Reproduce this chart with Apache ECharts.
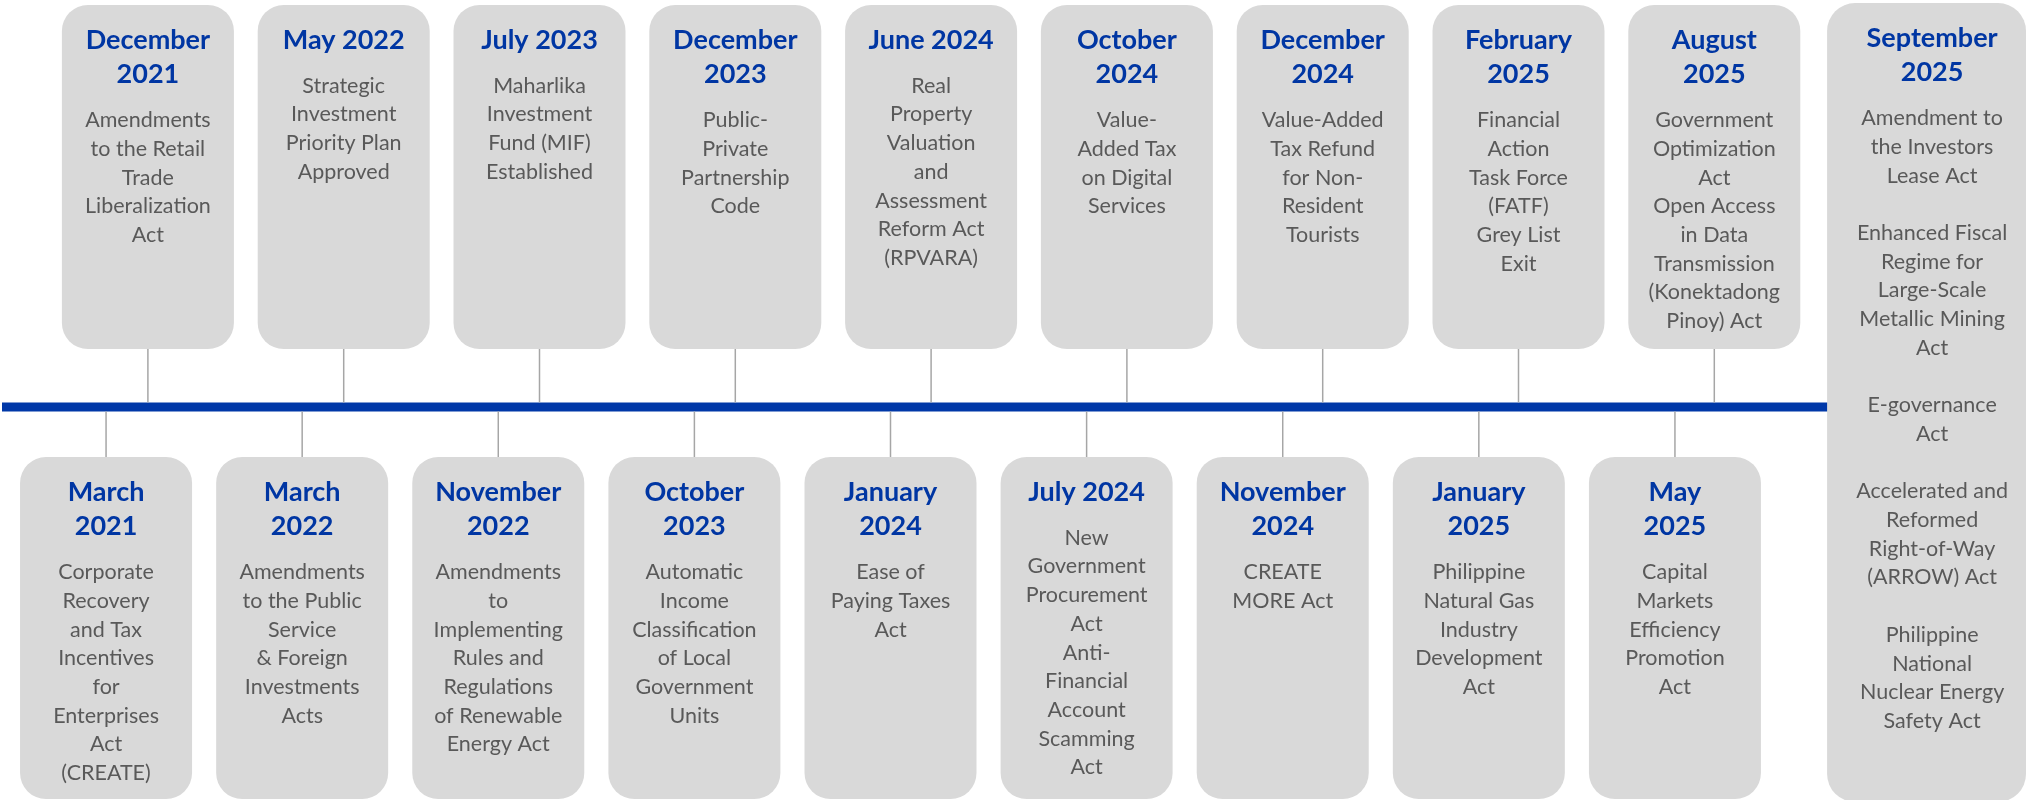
<!DOCTYPE html>
<html>
<head>
<meta charset="utf-8">
<title>Philippine reform timeline</title>
<script src="https://cdn.jsdelivr.net/npm/echarts@6/dist/echarts.min.js"></script>
<style>
  html, body { margin: 0; padding: 0; background: #fff; }
  #chart { width: 2026px; height: 800px; }
</style>
</head>
<body>
<div id="chart"></div>
<script>
// events above the line, in order
const topMonths = ['December\n2021', 'May 2022', 'July 2023', 'December\n2023', 'June 2024',
  'October\n2024', 'December\n2024', 'February\n2025', 'August\n2025']
const topActs = [
  'Amendments\nto the Retail\nTrade\nLiberalization\nAct',
  'Strategic\nInvestment\nPriority Plan\nApproved',
  'Maharlika\nInvestment\nFund (MIF)\nEstablished',
  'Public-\nPrivate\nPartnership\nCode',
  'Real\nProperty\nValuation\nand\nAssessment\nReform Act\n(RPVARA)',
  'Value-\nAdded Tax\non Digital\nServices',
  'Value-Added\nTax Refund\nfor Non-\nResident\nTourists',
  'Financial\nAction\nTask Force\n(FATF)\nGrey List\nExit',
  'Government\nOptimization\nAct\nOpen Access\nin Data\nTransmission\n(Konektadong\nPinoy) Act'
]

// events below the line, in order
const bottomMonths = ['March\n2021', 'March\n2022', 'November\n2022', 'October\n2023', 'January\n2024',
  'July 2024', 'November\n2024', 'January\n2025', 'May\n2025']
const bottomActs = [
  'Corporate\nRecovery\nand Tax\nIncentives\nfor\nEnterprises\nAct\n(CREATE)',
  'Amendments\nto the Public\nService\n& Foreign\nInvestments\nActs',
  'Amendments\nto\nImplementing\nRules and\nRegulations\nof Renewable\nEnergy Act',
  'Automatic\nIncome\nClassification\nof Local\nGovernment\nUnits',
  'Ease of\nPaying Taxes\nAct',
  'New\nGovernment\nProcurement\nAct\nAnti-\nFinancial\nAccount\nScamming\nAct',
  'CREATE\nMORE Act',
  'Philippine\nNatural Gas\nIndustry\nDevelopment\nAct',
  'Capital\nMarkets\nEfficiency\nPromotion\nAct'
]

// last, full height box at the end of the line
const finalMonth = 'September\n2025'
const finalActs = [
  'Amendment to\nthe Investors\nLease Act',
  'Enhanced Fiscal\nRegime for\nLarge-Scale\nMetallic Mining\nAct',
  'E-governance\nAct',
  'Accelerated and\nReformed\nRight-of-Way\n(ARROW) Act',
  'Philippine\nNational\nNuclear Energy\nSafety Act'
]

const BLUE = '#0036a3'
const BOX = '#d9d9d9'
const GREY_TEXT = '#595959'
const STEM = '#a6a6a6'
const FONT = 'Lato, "Open Sans", sans-serif'
const LINE_Y = 407
const LINE_W = 9
const BOX_W = 172

function textBlock(cx, boxTop, month, acts) {
  const n = month.split('\n').length
  const lastTitleBase = boxTop + 44 + (n - 1) * 34.5
  return [{
    type: 'text',
    style: {
      text: month, x: cx, y: boxTop + 18,
      fill: BLUE, fontSize: 27, fontWeight: 'bold', fontFamily: FONT,
      lineHeight: 34.5, align: 'center', verticalAlign: 'top'
    }
  }, {
    type: 'text',
    style: {
      text: acts, x: cx, y: lastTitleBase + 44 - 21.5,
      fill: GREY_TEXT, fontSize: 21.5, fontFamily: FONT,
      lineHeight: 28.7, align: 'center', verticalAlign: 'top'
    }
  }]
}

function makeRender(months, acts, above) {
  return function (params, api) {
    const cs = params.coordSys
    const i = params.dataIndex
    const cx = api.coord([api.value(0), 0])[0]
    const top = cs.y
    const bottom = cs.y + cs.height
    const stem = above
      ? { x1: cx, y1: bottom, x2: cx, y2: LINE_Y - LINE_W / 2 }
      : { x1: cx, y1: LINE_Y + LINE_W / 2, x2: cx, y2: top }
    return {
      type: 'group',
      children: [
        { type: 'line', shape: stem, style: { stroke: STEM, lineWidth: 1.5 } },
        { type: 'rect', shape: { x: cx - BOX_W / 2, y: top, width: BOX_W, height: cs.height, r: 26 }, style: { fill: BOX } }
      ].concat(textBlock(cx, top, months[i], acts[i]))
    }
  }
}

function renderFinal(params, api) {
  const cx = api.coord([api.value(0), 0])[0]
  const top = params.coordSys.y - 2
  const left = cx - 83
  return {
    type: 'group',
    children: [
      { type: 'rect', shape: { x: left, y: top, width: api.getWidth() - left, height: 802 - top, r: 28 }, style: { fill: BOX } }
    ].concat(textBlock(cx + 22, top, finalMonth, finalActs.join('\n\n')))
  }
}

const chart = echarts.init(document.getElementById('chart'))
chart.setOption({
  backgroundColor: '#fff',
  animation: false,
  graphic: [{
    type: 'rect',
    shape: { x: 2, y: LINE_Y - LINE_W / 2, width: 1830, height: LINE_W },
    style: { fill: '#0038a8' },
    z: 0
  }],
  grid: [
    { left: 50, width: 1958, top: 5, height: 344 },
    { left: 8, width: 1765, top: 457, height: 342 }
  ],
  xAxis: [
    { gridIndex: 0, type: 'category', data: topMonths.concat([finalMonth]), show: false },
    { gridIndex: 1, type: 'category', data: bottomMonths, show: false }
  ],
  yAxis: [
    { gridIndex: 0, type: 'value', min: 0, max: 1, show: false },
    { gridIndex: 1, type: 'value', min: 0, max: 1, show: false }
  ],
  series: [{
    type: 'custom',
    xAxisIndex: 0, yAxisIndex: 0,
    renderItem: makeRender(topMonths, topActs, true),
    data: topMonths.map((m, i) => [i, 0]),
    z: 5
  }, {
    type: 'custom',
    xAxisIndex: 1, yAxisIndex: 1,
    renderItem: makeRender(bottomMonths, bottomActs, false),
    data: bottomMonths.map((m, i) => [i, 0]),
    z: 5
  }, {
    type: 'custom',
    xAxisIndex: 0, yAxisIndex: 0,
    renderItem: renderFinal,
    data: [[topMonths.length, 0]],
    z: 6
  }]
})
</script>
</body>
</html>
